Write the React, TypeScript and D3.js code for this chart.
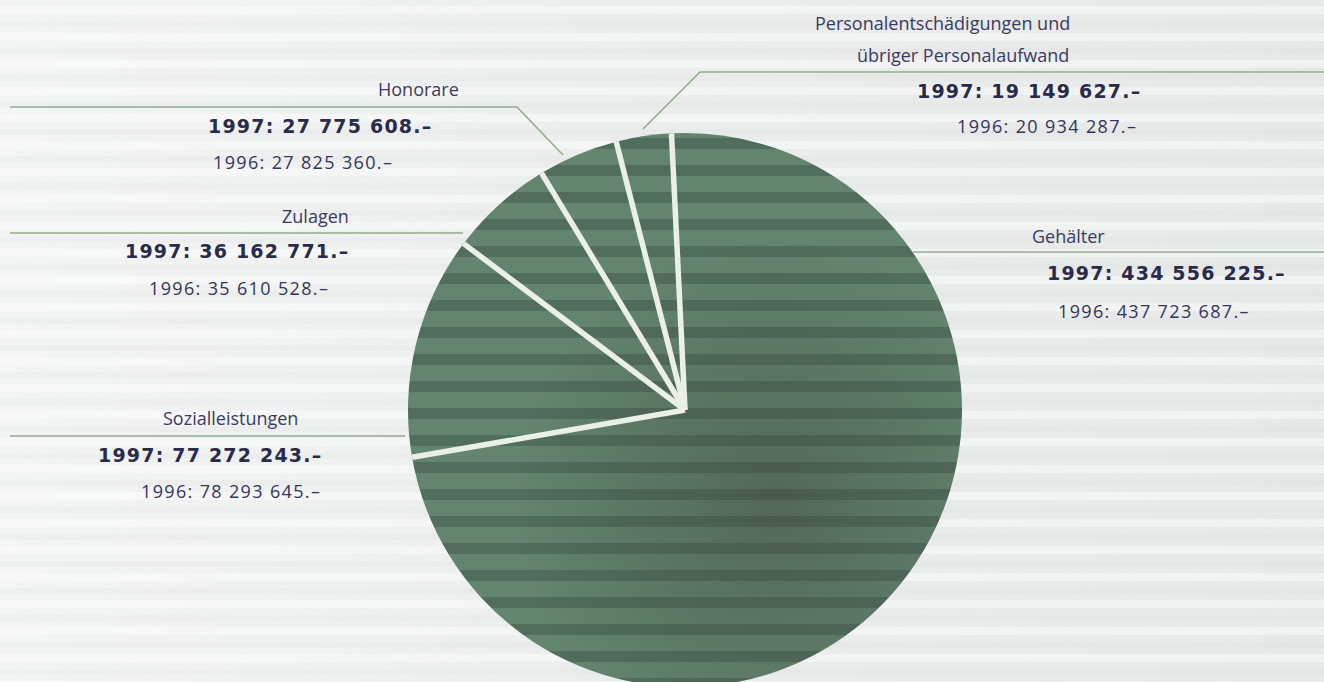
import React from "react";
import * as d3 from "d3";

// ---- data ----
const categories = [
  "Gehälter",
  "Sozialleistungen",
  "Zulagen",
  "Honorare",
  "Personalentschädigungen und übriger Personalaufwand",
];
const values1997 = [434556225, 77272243, 36162771, 27775608, 19149627];
const values1996 = [437723687, 78293645, 35610528, 27825360, 20934287];
const labelLines = [
  ["Gehälter"],
  ["Sozialleistungen"],
  ["Zulagen"],
  ["Honorare"],
  ["Personalentschädigungen und", "übriger Personalaufwand"],
];
const yearA = "1997";
const yearB = "1996";

// ---- layout (positions only) ----
const W = 1324;
const H = 682;
const CX = 685;
const CY = 410;
const R = 277;
const START_DEG = -2.8;

type LabelPos = {
  names: [number, number][];
  bold: [number, number];
  reg: [number, number];
  leader: [number, number][];
};
const labelLayout: LabelPos[] = [
  { names: [[1032, 243]], bold: [1047, 280], reg: [1058, 318], leader: [[913, 252], [1324, 252]] },
  { names: [[163, 425]], bold: [98, 462], reg: [141, 498], leader: [[10, 436], [405, 436]] },
  { names: [[282, 223]], bold: [125, 258], reg: [149, 295], leader: [[10, 233], [463, 233]] },
  { names: [[378, 96]], bold: [208, 133], reg: [213, 169], leader: [[10, 107], [517, 107], [563, 155]] },
  {
    names: [[815, 30], [857, 62]],
    bold: [917, 98],
    reg: [957, 133],
    leader: [[1324, 72], [700, 72], [643, 129]],
  },
];

const locale = d3.formatLocale({
  decimal: ".",
  thousands: " ",
  grouping: [3],
  currency: ["", ""],
});
const fmt = locale.format(",");
const money = (v: number) => `${fmt(v)}.–`;

export default function App() {
  const rows = categories.map((c, i) => ({ c, v: values1997[i], i }));
  const start = (START_DEG * Math.PI) / 180;
  const pie = d3
    .pie<{ c: string; v: number; i: number }>()
    .sort(null)
    .value((d) => d.v)
    .startAngle(start)
    .endAngle(start + 2 * Math.PI);
  const arcs = pie(rows);
  const arc = d3
    .arc<d3.PieArcDatum<{ c: string; v: number; i: number }>>()
    .innerRadius(0)
    .outerRadius(R);
  const line = d3.line();

  const textBold: React.CSSProperties = {
    fontFamily: "'DejaVu Sans', Verdana, sans-serif",
    fontWeight: 700,
    fontSize: 19,
    letterSpacing: 1.2,
  };
  const textReg: React.CSSProperties = {
    fontFamily: "'Open Sans', sans-serif",
    fontSize: 18,
    fontWeight: 500,
    letterSpacing: 1.35,
  };
  const textName: React.CSSProperties = {
    fontFamily: "'Open Sans', sans-serif",
    fontSize: 18,
    fontWeight: 500,
  };

  return (
    <div style={{ position: "fixed", left: 0, top: 0, width: W, height: H, overflow: "hidden" }}>
      <svg width={W} height={H} viewBox={`0 0 ${W} ${H}`}>
        <defs>
          <linearGradient id="bg" x1="0" x2="1" y1="0" y2="0">
            <stop offset="0" stopColor="#f3f4f4" />
            <stop offset="0.45" stopColor="#eceeee" />
            <stop offset="1" stopColor="#e6e9e8" />
          </linearGradient>
          <pattern id="bgstreak" patternUnits="userSpaceOnUse" width={W} height={27} y={6}>
            <rect x={0} y={0} width={W} height={8} fill="#ffffff" opacity={0.4} />
            <rect x={0} y={15} width={W} height={6} fill="#d6dada" opacity={0.18} />
          </pattern>
          <pattern id="stripes" patternUnits="userSpaceOnUse" width={W} height={27} y={-2}>
            <rect x={0} y={0} width={W} height={27} fill="#63846e" />
            <rect x={0} y={0} width={W} height={11} fill="#516d5c" />
          </pattern>
          <radialGradient
            id="shade"
            gradientUnits="userSpaceOnUse"
            cx={CX + 90}
            cy={CY + 90}
            r={260}
          >
            <stop offset="0" stopColor="#3d3f3b" stopOpacity={0.42} />
            <stop offset="0.55" stopColor="#3d423e" stopOpacity={0.2} />
            <stop offset="1" stopColor="#3d423e" stopOpacity={0} />
          </radialGradient>
        </defs>

        <rect x={0} y={0} width={W} height={H} fill="url(#bg)" />
        <rect x={0} y={0} width={W} height={H} fill="url(#bgstreak)" />

        {/* leader lines */}
        {labelLayout.map((l, i) => (
          <path
            key={`ld${i}`}
            d={line(l.leader) || ""}
            fill="none"
            stroke="#8fae8a"
            strokeWidth={1.6}
          />
        ))}

        <g transform={`translate(${CX},${CY})`}>
          {arcs.map((a) => (
            <path key={a.data.c} d={arc(a) || ""} fill="url(#stripes)" />
          ))}
        </g>
        <circle cx={CX} cy={CY} r={R} fill="url(#shade)" />
        <g transform={`translate(${CX},${CY})`}>
          {arcs.map((a) => (
            <line
              key={`sep${a.data.c}`}
              x1={0}
              y1={0}
              x2={R * Math.sin(a.startAngle)}
              y2={-R * Math.cos(a.startAngle)}
              stroke="#eaefe8"
              strokeWidth={5.5}
              strokeLinecap="butt"
            />
          ))}
        </g>

        {/* labels */}
        {categories.map((c, i) => {
          const l = labelLayout[i];
          return (
            <g key={`lb${c}`}>
              {labelLines[i].map((t, j) => (
                <text key={j} x={l.names[j][0]} y={l.names[j][1]} fill="#3a3b62" style={textName}>
                  {t}
                </text>
              ))}
              <text x={l.bold[0]} y={l.bold[1]} fill="#2a2a4a" style={textBold}>
                {`${yearA}: ${money(values1997[i])}`}
              </text>
              <text x={l.reg[0]} y={l.reg[1]} fill="#34355a" style={textReg}>
                {`${yearB}: ${money(values1996[i])}`}
              </text>
            </g>
          );
        })}
      </svg>
    </div>
  );
}
